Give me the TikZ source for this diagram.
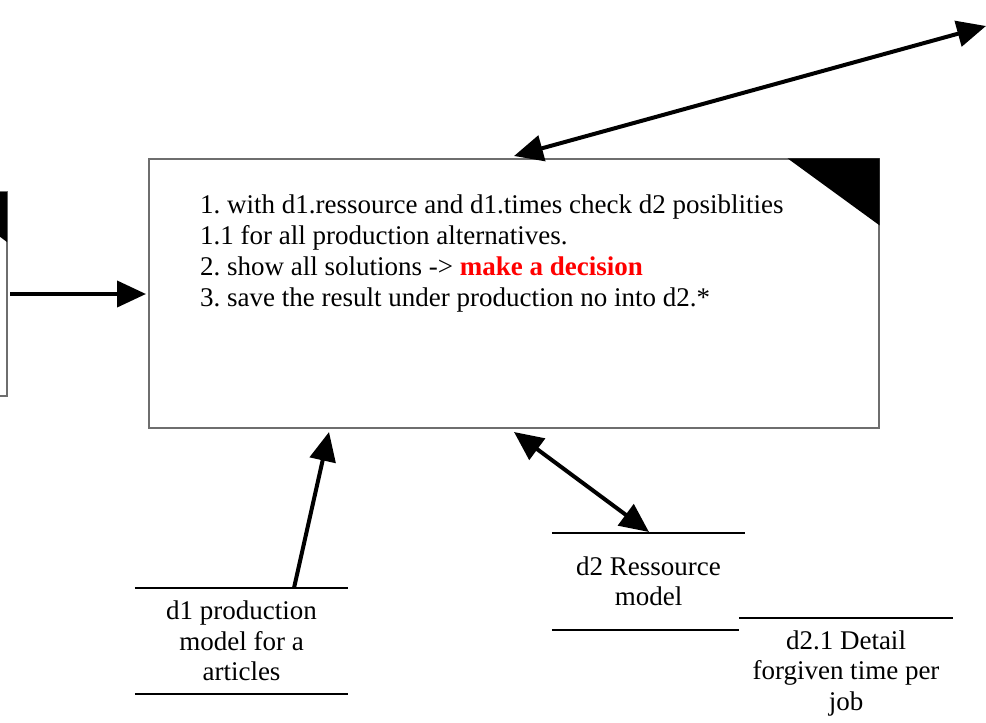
\documentclass[tikz,border=0pt]{standalone}
\usepackage{fontspec}
\setmainfont{Liberation Serif}
\usetikzlibrary{arrows.meta,calc}
\definecolor{boxgray}{RGB}{110,110,110}
\definecolor{declred}{RGB}{255,0,0}
\begin{document}
\frenchspacing
\begin{tikzpicture}[x=1pt,y=-1pt,
  procbox/.style={draw=boxgray,line width=1.2pt,rectangle,inner sep=0pt},
  storetext/.style={align=center,inner sep=0pt,font=\fontsize{27}{30.5}\selectfont},
  storeline/.style={line width=1.8pt},
  flow/.style={line width=4pt,-{Triangle[length=29pt,width=26pt]}},
  flowboth/.style={line width=4pt,{Triangle[length=29pt,width=26pt]}-{Triangle[length=29pt,width=26pt]}}]
\useasboundingbox (0,0) rectangle (986,723);
% left partial box
\begin{scope}
\clip (0,0) rectangle (986,723);
\node[procbox,minimum width=220pt,minimum height=204pt] (left) at (-103,294) {};
\fill (7,192) -- (7,242) -- (-60,192) -- cycle;
\end{scope}
% main box
\node[procbox,minimum width=730pt,minimum height=269pt] (main) at (514,293.5) {};
\fill ($(main.north east)+(-92,0)$) -- (main.north east) -- ($(main.north east)+(0,67)$) -- cycle;
\node[anchor=north west,align=left,inner sep=0pt,font=\fontsize{27}{31}\selectfont] (steps) at (200,195)
 {1. with d1.ressource and d1.times check d2 posiblities\\
  1.1 for all production alternatives.\\
  2. show all solutions -> {\bfseries\color{declred}make a decision}\\
  3. save the result under production no into d2.*};
% stores
\node[storetext,minimum width=213pt,minimum height=106pt] (d1) at (241.5,641) {d1 production\\model for a\\articles};
\draw[storeline] (d1.north west) -- (d1.north east);
\draw[storeline] (d1.south west) -- (d1.south east);
\node[storetext,minimum width=193pt,minimum height=97pt] (d2) at (648.5,581.5) {d2 Ressource\\model};
\draw[storeline] (d2.north west) -- (d2.north east);
\draw[storeline] (d2.south west) -- ($(d2.south east)+(-6,0)$);
\node[storetext,minimum width=214pt,minimum height=110pt] (d21) at (846,673) {d2.1 Detail\\forgiven time per\\job};
\draw[storeline] (d21.north west) -- (d21.north east);
% connectors
\coordinate (leftout) at (10,294);
\coordinate (mainin) at (146,294);
\coordinate (maintop) at (514,156);
\coordinate (topend) at (986,26);
\coordinate (mainbl) at (329,432);
\coordinate (mainbr) at (514,432);
\coordinate (d1top) at (294,588);
\coordinate (d2top) at (649,532);
\draw[flow] (leftout) -- (mainin);
\draw[flowboth] (maintop) -- (topend);
\draw[flow] (d1top) -- (mainbl);
\draw[flowboth] (mainbr) -- (d2top);
\end{tikzpicture}
\end{document}
